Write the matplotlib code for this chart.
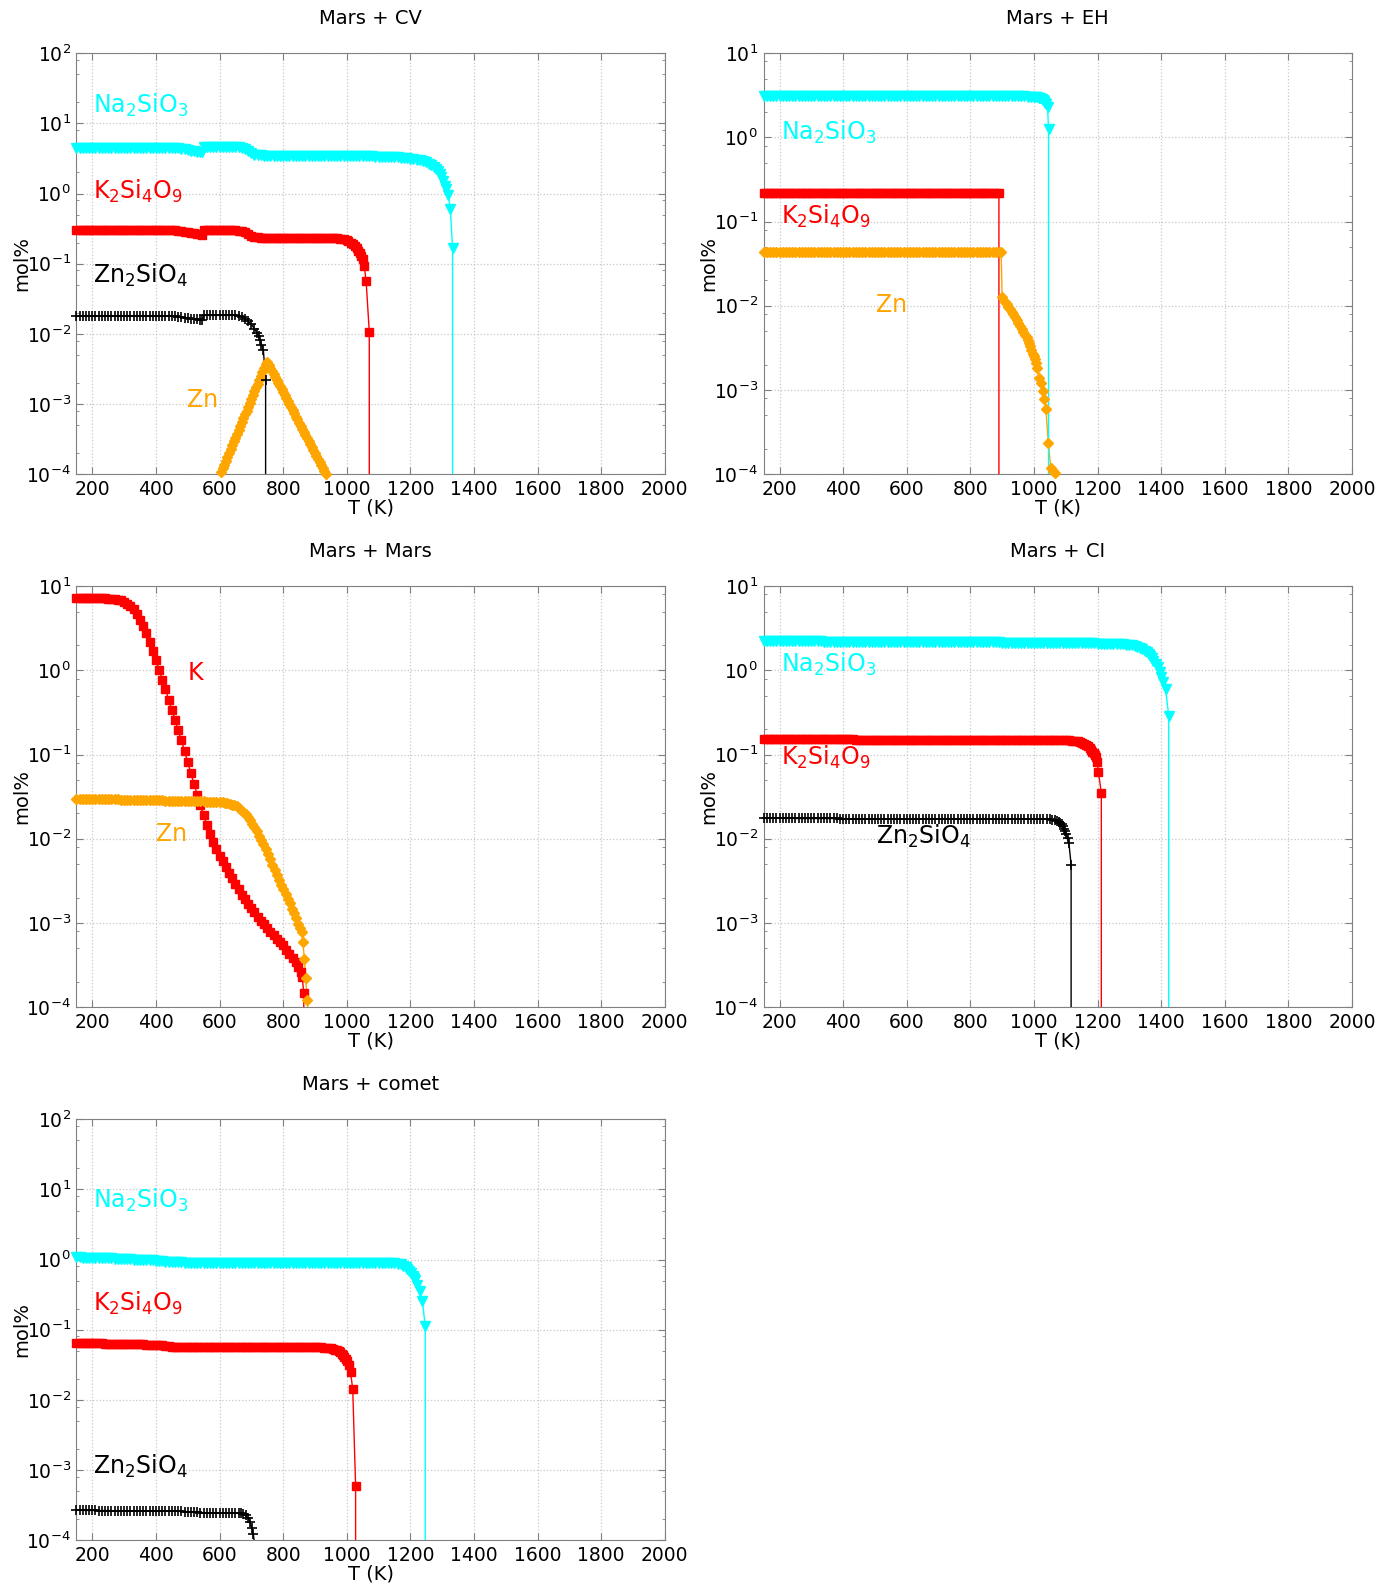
## Mars mixtures: condensed phases vs temperature (log scale), 5 panels

import matplotlib.pyplot as plt
from matplotlib.ticker import LogLocator, MultipleLocator, NullFormatter
import numpy as np

## =========================================================================
## Data: (T in K, mol%); 0 means the phase is gone

# ---- Mars + CV
na_cv = [(150,4.45),(160,4.45),(170,4.45),(180,4.45),(190,4.45),(200,4.45),(210,4.45),(220,4.45),(230,4.45),(240,4.45),
         (250,4.45),(260,4.45),(270,4.45),(280,4.45),(290,4.45),(300,4.45),(310,4.45),(320,4.45),(330,4.45),(340,4.45),
         (350,4.45),(360,4.45),(370,4.45),(380,4.45),(390,4.45),(400,4.45),(410,4.45),(420,4.45),(430,4.45),(440,4.45),
         (450,4.45),(460,4.43),(470,4.4),(480,4.33),(490,4.25),(500,4.18),(510,4.1),(520,4.03),(530,3.95),(540,3.88),
         (546,3.85),(550,4.6),(560,4.6),(570,4.6),(580,4.6),(590,4.6),(600,4.6),(610,4.6),(620,4.6),(630,4.6),
         (640,4.6),(650,4.6),(660,4.58),(670,4.5),(680,4.3),(690,4.0),(700,3.75),(710,3.6),(720,3.53),(730,3.5),
         (740,3.47),(750,3.45),(760,3.45),(770,3.45),(780,3.45),(790,3.45),(800,3.45),(810,3.45),(820,3.45),(830,3.45),
         (840,3.45),(850,3.45),(860,3.45),(870,3.44),(880,3.44),(890,3.44),(900,3.44),(910,3.43),(920,3.43),(930,3.43),
         (940,3.43),(950,3.42),(960,3.42),(970,3.42),(980,3.42),(990,3.41),(1000,3.41),(1010,3.4),(1020,3.4),(1030,3.4),
         (1040,3.4),(1050,3.39),(1060,3.39),(1070,3.38),(1080,3.38),(1090,3.37),(1100,3.37),(1110,3.36),(1120,3.36),(1130,3.35),
         (1140,3.33),(1150,3.3),(1160,3.28),(1170,3.25),(1180,3.23),(1190,3.2),(1200,3.15),(1210,3.1),(1220,3.05),(1230,3.0),
         (1240,2.9),(1250,2.8),(1258,2.68),(1265,2.55),(1273,2.4),(1280,2.25),(1287,2.08),(1293,1.9),(1298,1.7),(1303,1.5),
         (1308,1.3),(1312,1.15),(1319,0.95),(1326,0.6),(1333,0.165),(1334,0)]
k_cv = [(150,0.3),(160,0.3),(170,0.3),(180,0.3),(190,0.3),(200,0.3),(210,0.3),(220,0.3),(230,0.3),(240,0.3),
        (250,0.3),(260,0.3),(270,0.3),(280,0.3),(290,0.3),(300,0.3),(310,0.3),(320,0.3),(330,0.3),(340,0.3),
        (350,0.3),(360,0.3),(370,0.3),(380,0.3),(390,0.3),(400,0.3),(410,0.3),(420,0.3),(430,0.3),(440,0.3),
        (450,0.3),(460,0.298),(470,0.295),(480,0.29),(490,0.285),(500,0.28),(510,0.275),(520,0.27),(530,0.265),(540,0.262),
        (546,0.26),(550,0.305),(560,0.302),(570,0.3),(580,0.3),(590,0.3),(600,0.3),(610,0.3),(620,0.3),(630,0.3),
        (640,0.3),(650,0.3),(660,0.297),(670,0.29),(680,0.28),(690,0.265),(700,0.25),(710,0.24),(720,0.237),(730,0.235),
        (740,0.235),(750,0.235),(760,0.235),(770,0.235),(780,0.235),(790,0.235),(800,0.235),(810,0.235),(820,0.235),(830,0.235),
        (840,0.235),(850,0.235),(860,0.235),(870,0.235),(880,0.235),(890,0.235),(900,0.235),(910,0.235),(920,0.235),(930,0.235),
        (940,0.235),(950,0.233),(960,0.232),(970,0.23),(980,0.226),(990,0.222),(1000,0.215),(1005,0.21),(1012,0.2),(1020,0.19),
        (1026,0.178),(1032,0.165),(1037,0.153),(1042,0.14),(1046,0.128),(1050,0.115),(1055,0.094),(1061,0.057),(1071,0.0107),(1072,0)]
zn2_cv = [(150,0.0178),(160,0.0178),(170,0.0178),(180,0.0178),(190,0.0178),(200,0.0178),(210,0.0178),(220,0.0178),(230,0.0178),(240,0.0178),
          (250,0.0178),(260,0.0178),(270,0.0178),(280,0.0178),(290,0.0178),(300,0.0178),(310,0.0178),(320,0.0178),(330,0.0178),(340,0.0178),
          (350,0.0178),(360,0.0178),(370,0.0178),(380,0.0178),(390,0.0178),(400,0.0178),(410,0.0178),(420,0.0178),(430,0.0178),(440,0.0178),
          (450,0.0178),(460,0.0177),(470,0.0175),(480,0.0173),(490,0.017),(500,0.0168),(510,0.0165),(520,0.0162),(530,0.016),(540,0.0159),
          (546,0.0158),(552,0.0183),(560,0.0183),(570,0.0183),(580,0.0183),(590,0.0183),(600,0.0183),(610,0.0183),(620,0.0183),(630,0.0183),
          (640,0.0183),(650,0.0183),(660,0.018),(670,0.0173),(680,0.0163),(690,0.015),(700,0.0136),(710,0.0118),(718,0.0102),(723,0.0092),
          (727,0.0082),(732,0.007),(738,0.0058),(745,0.0022),(746,0)]
zn_cv = [(600,9.3e-5),(605,1.06e-4),(610,1.2e-4),(615,1.36e-4),(620,1.55e-4),(625,1.76e-4),(630,2.0e-4),(635,2.26e-4),
         (640,2.57e-4),(645,2.92e-4),(650,3.31e-4),(655,3.76e-4),(660,4.27e-4),(665,4.84e-4),(670,5.5e-4),(675,6.24e-4),
         (680,7.08e-4),(685,8.0e-4),(690,9.1e-4),(695,1.04e-3),(700,1.17e-3),(705,1.33e-3),(710,1.51e-3),(715,1.72e-3),
         (720,1.95e-3),(725,2.21e-3),(730,2.51e-3),(735,2.85e-3),(740,3.24e-3),(745,3.7e-3),(748,4.0e-3),(755,3.6e-3),
         (760,3.27e-3),(765,2.95e-3),(770,2.67e-3),(775,2.42e-3),(780,2.19e-3),(785,1.98e-3),(790,1.79e-3),(795,1.62e-3),
         (800,1.47e-3),(805,1.33e-3),(810,1.2e-3),(815,1.09e-3),(820,9.9e-4),(825,8.9e-4),(830,8.1e-4),(835,7.3e-4),
         (840,6.6e-4),(845,6.0e-4),(850,5.4e-4),(855,4.9e-4),(860,4.45e-4),(865,4.0e-4),(870,3.65e-4),(875,3.3e-4),
         (880,3.0e-4),(885,2.7e-4),(890,2.45e-4),(895,2.2e-4),(900,2.0e-4),(905,1.8e-4),(910,1.64e-4),(915,1.49e-4),
         (920,1.35e-4),(925,1.22e-4),(930,1.1e-4),(935,1.0e-4),(940,9.1e-5)]

# ---- Mars + EH
na_eh = [(150,3.12),(160,3.12),(170,3.11),(180,3.11),(190,3.11),(200,3.11),(210,3.1),(220,3.1),(230,3.1),(240,3.1),
         (250,3.1),(260,3.1),(270,3.1),(280,3.1),(290,3.1),(300,3.1),(310,3.1),(320,3.1),(330,3.1),(340,3.1),
         (350,3.1),(360,3.1),(370,3.1),(380,3.1),(390,3.1),(400,3.1),(410,3.1),(420,3.1),(430,3.1),(440,3.1),
         (450,3.1),(460,3.1),(470,3.1),(480,3.1),(490,3.1),(500,3.1),(510,3.1),(520,3.1),(530,3.1),(540,3.1),
         (550,3.1),(560,3.1),(570,3.1),(580,3.1),(590,3.1),(600,3.1),(610,3.1),(620,3.1),(630,3.1),(640,3.1),
         (650,3.1),(660,3.1),(670,3.1),(680,3.1),(690,3.1),(700,3.1),(710,3.1),(720,3.1),(730,3.1),(740,3.1),
         (750,3.1),(760,3.1),(770,3.1),(780,3.1),(790,3.1),(800,3.1),(810,3.1),(820,3.1),(830,3.1),(840,3.1),
         (850,3.1),(860,3.1),(870,3.1),(880,3.1),(890,3.1),(900,3.1),(910,3.09),(920,3.09),(930,3.09),(940,3.08),
         (950,3.08),(960,3.08),(970,3.07),(980,3.065),(990,3.06),(1000,3.05),(1005,3.03),(1010,3.0),(1015,2.97),(1020,2.92),
         (1025,2.85),(1030,2.77),(1033,2.7),(1036,2.6),(1039,2.5),(1043,2.3),(1046,1.25),(1047,0)]
k_eh = [(150,0.219),(160,0.219),(170,0.219),(180,0.219),(190,0.219),(200,0.219),(210,0.219),(220,0.219),(230,0.219),(240,0.219),
        (250,0.219),(260,0.219),(270,0.219),(280,0.219),(290,0.219),(300,0.219),(310,0.219),(320,0.219),(330,0.219),(340,0.219),
        (350,0.219),(360,0.219),(370,0.219),(380,0.219),(390,0.219),(400,0.219),(410,0.219),(420,0.219),(430,0.219),(440,0.219),
        (450,0.219),(460,0.219),(470,0.219),(480,0.219),(490,0.219),(500,0.219),(510,0.219),(520,0.219),(530,0.219),(540,0.219),
        (550,0.219),(560,0.219),(570,0.219),(580,0.219),(590,0.219),(600,0.219),(610,0.219),(620,0.219),(630,0.219),(640,0.219),
        (650,0.219),(660,0.219),(670,0.219),(680,0.219),(690,0.219),(700,0.219),(710,0.219),(720,0.219),(730,0.219),(740,0.219),
        (750,0.219),(760,0.219),(770,0.219),(780,0.219),(790,0.219),(800,0.219),(810,0.219),(820,0.219),(830,0.219),(840,0.219),
        (850,0.219),(860,0.219),(870,0.219),(880,0.219),(890,0.219),(893,0)]
zn_eh = [(150,0.0435),(160,0.0435),(170,0.0435),(180,0.0435),(190,0.0435),(200,0.0435),(210,0.0435),(220,0.0435),(230,0.0435),(240,0.0435),
         (250,0.0435),(260,0.0435),(270,0.0435),(280,0.0435),(290,0.0435),(300,0.0435),(310,0.0435),(320,0.0435),(330,0.0435),(340,0.0435),
         (350,0.0435),(360,0.0435),(370,0.0435),(380,0.0435),(390,0.0435),(400,0.0435),(410,0.0435),(420,0.0435),(430,0.0435),(440,0.0435),
         (450,0.0435),(460,0.0435),(470,0.0435),(480,0.0435),(490,0.0435),(500,0.0435),(510,0.0435),(520,0.0435),(530,0.0435),(540,0.0435),
         (550,0.0435),(560,0.0435),(570,0.0435),(580,0.0435),(590,0.0435),(600,0.0435),(610,0.0435),(620,0.0435),(630,0.0435),(640,0.0435),
         (650,0.0435),(660,0.0435),(670,0.0435),(680,0.0435),(690,0.0435),(700,0.0435),(710,0.0435),(720,0.0435),(730,0.0435),(740,0.0435),
         (750,0.0435),(760,0.0435),(770,0.0435),(780,0.0435),(790,0.0435),(800,0.0435),(810,0.0435),(820,0.0435),(830,0.0435),(840,0.0435),
         (850,0.0435),(860,0.0435),(870,0.0435),(880,0.0435),(890,0.0435),(897,0.0435),(900,0.0128),(909,0.0112),(915,0.0104),(920,0.0097),
         (925,0.0091),(930,0.0085),(935,0.0079),(941,0.0073),(946,0.0067),(951,0.0062),(956,0.0057),(962,0.0053),(967,0.0049),(972,0.0045),
         (977,0.0042),(981,0.0039),(985,0.0036),(988,0.0033),(992,0.003),(996,0.0027),(1000,0.0025),(1004,0.0023),(1007,0.0021),(1011,0.0018),
         (1017,0.0014),(1022,0.0012),(1028,0.00097),(1033,0.00078),(1038,0.00059),(1045,0.000232),(1053,0.000119),(1060,0.000108),
         (1066,0.000103),(1070,0.00009)]

# ---- Mars + Mars
k_mars = [(150,7.24),(160,7.24),(170,7.24),(180,7.24),(190,7.24),(200,7.24),(210,7.23),(220,7.22),(230,7.2),(240,7.18),
          (250,7.15),(260,7.1),(270,7.05),(280,6.95),(290,6.8),(300,6.5),(310,6.2),(320,5.8),(330,5.3),(340,4.7),
          (350,4.0),(360,3.4),(370,2.75),(380,2.18),(390,1.7),(400,1.33),(410,1.02),(420,0.78),(430,0.6),(440,0.45),
          (450,0.34),(460,0.26),(470,0.195),(480,0.148),(490,0.11),(500,0.082),(510,0.06),(520,0.045),(530,0.033),(540,0.025),
          (550,0.019),(560,0.0145),(570,0.0113),(580,0.0092),(590,0.0076),(600,0.0063),(610,0.0054),(620,0.0046),(630,0.0039),(640,0.0034),
          (650,0.0029),(660,0.0025),(670,0.00215),(680,0.0019),(690,0.00168),(700,0.00149),(710,0.00133),(720,0.00119),(730,0.00106),(740,0.00096),
          (750,0.00087),(760,0.00078),(770,0.00071),(780,0.00065),(790,0.0006),(800,0.00054),(810,0.00048),(820,0.00043),(830,0.00038),(840,0.00034),
          (848,0.0003),(855,0.00026),(860,0.00023),(865,0.000147),(868,0)]
zn_mars = [(150,0.0298),(160,0.0298),(170,0.0298),(180,0.0298),(190,0.0297),(200,0.0297),(210,0.0296),(220,0.0296),(230,0.0295),(240,0.0295),
           (250,0.0294),(260,0.0294),(270,0.0293),(280,0.0293),(290,0.0292),(300,0.0291),(310,0.029),(320,0.029),(330,0.0289),(340,0.0289),
           (350,0.0288),(360,0.0288),(370,0.0287),(380,0.0287),(390,0.0286),(400,0.0286),(410,0.0285),(420,0.0285),(430,0.0284),(440,0.0284),
           (450,0.0283),(460,0.0283),(470,0.0282),(480,0.0281),(490,0.028),(500,0.028),(510,0.0279),(520,0.0279),(530,0.0278),(540,0.0278),
           (550,0.0277),(560,0.0276),(570,0.0275),(580,0.0274),(590,0.0273),(600,0.0272),(610,0.027),(618,0.0268),(625,0.0265),(632,0.0261),
           (640,0.0255),(647,0.025),(654,0.0243),(661,0.0233),(668,0.0222),(675,0.021),(682,0.0196),(689,0.0181),(696,0.0166),(703,0.0151),
           (710,0.0136),(717,0.0122),(724,0.0109),(731,0.0097),(738,0.0086),(745,0.0076),(752,0.0066),(759,0.0057),(766,0.0049),(773,0.0043),
           (780,0.0037),(787,0.0032),(794,0.00283),(801,0.0025),(808,0.0022),(815,0.00194),(822,0.0017),(829,0.00148),(835,0.0013),(842,0.00113),
           (848,0.00098),(853,0.00088),(858,0.00078),(862,0.0006),(867,0.000373),(871,0.00022),(876,0.00012),(880,0.00007)]

# ---- Mars + CI
na_ci = [(150,2.25),(160,2.25),(170,2.25),(180,2.24),(190,2.24),(200,2.24),(210,2.24),(220,2.23),(230,2.23),(240,2.23),
         (250,2.23),(260,2.22),(270,2.22),(280,2.22),(290,2.22),(300,2.21),(310,2.21),(320,2.21),(330,2.21),(340,2.2),
         (350,2.2),(360,2.2),(370,2.2),(380,2.2),(390,2.2),(400,2.2),(410,2.2),(420,2.2),(430,2.2),(440,2.19),
         (450,2.19),(460,2.19),(470,2.19),(480,2.19),(490,2.19),(500,2.18),(510,2.18),(520,2.18),(530,2.18),(540,2.18),
         (550,2.18),(560,2.18),(570,2.18),(580,2.17),(590,2.17),(600,2.17),(610,2.17),(620,2.17),(630,2.17),(640,2.17),
         (650,2.17),(660,2.16),(670,2.16),(680,2.16),(690,2.16),(700,2.16),(710,2.16),(720,2.16),(730,2.16),(740,2.16),
         (750,2.16),(760,2.15),(770,2.15),(780,2.15),(790,2.15),(800,2.15),(810,2.15),(820,2.15),(830,2.15),(840,2.15),
         (850,2.15),(860,2.15),(870,2.15),(880,2.15),(890,2.15),(900,2.14),(910,2.14),(920,2.14),(930,2.14),(940,2.14),
         (950,2.14),(960,2.14),(970,2.14),(980,2.13),(990,2.13),(1000,2.13),(1010,2.13),(1020,2.13),(1030,2.13),(1040,2.12),
         (1050,2.12),(1060,2.12),(1070,2.12),(1080,2.12),(1090,2.12),(1100,2.12),(1110,2.12),(1120,2.11),(1130,2.11),(1140,2.11),
         (1150,2.11),(1160,2.1),(1170,2.1),(1180,2.1),(1190,2.1),(1200,2.09),(1210,2.09),(1220,2.08),(1230,2.08),(1240,2.07),
         (1250,2.07),(1260,2.06),(1270,2.05),(1280,2.04),(1290,2.02),(1300,2.0),(1310,1.98),(1318,1.94),(1325,1.9),(1333,1.84),
         (1340,1.78),(1348,1.72),(1355,1.65),(1361,1.57),(1366,1.48),(1371,1.4),(1376,1.31),(1383,1.2),(1390,1.09),(1395,0.96),
         (1400,0.83),(1407,0.72),(1414,0.6),(1424,0.29),(1425,0)]
k_ci = [(150,0.155),(160,0.155),(170,0.155),(180,0.155),(190,0.154),(200,0.154),(210,0.154),(220,0.154),(230,0.153),(240,0.153),
        (250,0.153),(260,0.153),(270,0.153),(280,0.153),(290,0.153),(300,0.153),(310,0.153),(320,0.153),(330,0.153),(340,0.152),
        (350,0.152),(360,0.152),(370,0.152),(380,0.152),(390,0.152),(400,0.152),(410,0.152),(420,0.152),(430,0.152),(440,0.151),
        (450,0.151),(460,0.151),(470,0.151),(480,0.151),(490,0.151),(500,0.151),(510,0.151),(520,0.151),(530,0.151),(540,0.151),
        (550,0.151),(560,0.151),(570,0.151),(580,0.15),(590,0.15),(600,0.15),(610,0.15),(620,0.15),(630,0.15),(640,0.15),
        (650,0.15),(660,0.15),(670,0.15),(680,0.15),(690,0.15),(700,0.15),(710,0.15),(720,0.15),(730,0.15),(740,0.15),
        (750,0.15),(760,0.15),(770,0.15),(780,0.15),(790,0.15),(800,0.15),(810,0.15),(820,0.15),(830,0.15),(840,0.15),
        (850,0.15),(860,0.15),(870,0.15),(880,0.15),(890,0.15),(900,0.15),(910,0.15),(920,0.15),(930,0.15),(940,0.15),
        (950,0.149),(960,0.149),(970,0.149),(980,0.149),(990,0.149),(1000,0.149),(1010,0.149),(1020,0.149),(1030,0.149),(1040,0.149),
        (1050,0.149),(1060,0.149),(1070,0.149),(1080,0.149),(1090,0.149),(1100,0.148),(1110,0.148),(1120,0.147),(1130,0.146),(1138,0.144),
        (1145,0.142),(1152,0.139),(1158,0.135),(1164,0.13),(1170,0.125),(1175,0.12),(1180,0.114),(1184,0.108),(1188,0.103),(1192,0.098),
        (1195,0.093),(1199,0.082),(1203,0.062),(1212,0.0348),(1213,0)]
zn2_ci = [(150,0.0175),(160,0.0175),(170,0.0175),(180,0.0175),(190,0.0175),(200,0.0175),(210,0.0175),(220,0.0175),(230,0.0175),(240,0.0175),
          (250,0.0174),(260,0.0174),(270,0.0174),(280,0.0174),(290,0.0174),(300,0.0174),(310,0.0174),(320,0.0174),(330,0.0174),(340,0.0174),
          (350,0.0174),(360,0.0174),(370,0.0174),(380,0.0174),(390,0.0173),(400,0.0173),(410,0.0173),(420,0.0173),(430,0.0173),(440,0.0173),
          (450,0.0173),(460,0.0173),(470,0.0173),(480,0.0173),(490,0.0173),(500,0.0173),(510,0.0173),(520,0.0173),(530,0.0173),(540,0.0173),
          (550,0.0173),(560,0.0173),(570,0.0173),(580,0.0173),(590,0.0173),(600,0.0172),(610,0.0172),(620,0.0172),(630,0.0172),(640,0.0172),
          (650,0.0172),(660,0.0172),(670,0.0172),(680,0.0172),(690,0.0172),(700,0.0172),(710,0.0172),(720,0.0172),(730,0.0172),(740,0.0172),
          (750,0.0172),(760,0.0172),(770,0.0172),(780,0.0172),(790,0.0172),(800,0.0172),(810,0.0172),(820,0.0172),(830,0.0172),(840,0.0172),
          (850,0.0172),(860,0.0172),(870,0.0172),(880,0.0172),(890,0.0172),(900,0.0172),(910,0.0172),(920,0.0172),(930,0.0172),(940,0.0172),
          (950,0.0172),(960,0.0172),(970,0.0172),(980,0.0172),(990,0.0172),(1000,0.0172),(1010,0.0172),(1020,0.0171),(1030,0.0171),(1040,0.017),
          (1050,0.017),(1058,0.0168),(1065,0.0166),(1072,0.0163),(1078,0.016),(1083,0.0155),(1088,0.0148),(1092,0.014),(1096,0.013),(1099,0.0122),
          (1102,0.0114),(1106,0.0102),(1110,0.009),(1117,0.0049),(1118,0)]

# ---- Mars + comet
na_comet = [(150,1.07),(160,1.07),(170,1.06),(180,1.06),(190,1.06),(200,1.055),(210,1.05),(220,1.05),(230,1.05),(240,1.045),
            (250,1.04),(260,1.035),(270,1.03),(280,1.025),(290,1.02),(300,1.015),(310,1.01),(320,1.005),(330,1.0),(340,1.0),
            (350,1.0),(360,0.995),(370,0.99),(380,0.98),(390,0.97),(400,0.96),(410,0.95),(420,0.94),(430,0.93),(440,0.925),
            (450,0.92),(460,0.915),(470,0.91),(480,0.908),(490,0.905),(500,0.905),(510,0.905),(520,0.905),(530,0.905),(540,0.905),
            (550,0.905),(560,0.905),(570,0.905),(580,0.905),(590,0.905),(600,0.905),(610,0.905),(620,0.905),(630,0.905),(640,0.905),
            (650,0.905),(660,0.905),(670,0.905),(680,0.905),(690,0.905),(700,0.905),(710,0.905),(720,0.905),(730,0.905),(740,0.905),
            (750,0.905),(760,0.905),(770,0.905),(780,0.905),(790,0.905),(800,0.905),(810,0.905),(820,0.905),(830,0.905),(840,0.905),
            (850,0.905),(860,0.905),(870,0.905),(880,0.905),(890,0.905),(900,0.905),(910,0.905),(920,0.905),(930,0.905),(940,0.905),
            (950,0.905),(960,0.905),(970,0.905),(980,0.905),(990,0.905),(1000,0.905),(1010,0.905),(1020,0.905),(1030,0.905),(1040,0.905),
            (1050,0.905),(1060,0.905),(1070,0.905),(1080,0.905),(1090,0.905),(1100,0.905),(1110,0.905),(1120,0.902),(1130,0.9),(1140,0.89),
            (1150,0.88),(1160,0.866),(1170,0.85),(1178,0.82),(1185,0.78),(1191,0.74),(1197,0.69),(1202,0.64),(1207,0.59),(1211,0.55),
            (1215,0.51),(1222,0.44),(1229,0.36),(1238,0.258),(1247,0.112),(1248,0)]
k_comet = [(150,0.0645),(160,0.0644),(170,0.0643),(180,0.0641),(190,0.064),(200,0.0639),(210,0.0638),(220,0.0636),(230,0.0635),(240,0.0633),
           (250,0.0632),(260,0.0631),(270,0.063),(280,0.0628),(290,0.0627),(300,0.0625),(310,0.0624),(320,0.0622),(330,0.0621),(340,0.0619),
           (350,0.0617),(360,0.0615),(370,0.0614),(380,0.0612),(390,0.061),(400,0.0605),(410,0.06),(420,0.0595),(430,0.059),(440,0.0582),
           (450,0.0575),(460,0.057),(470,0.0565),(480,0.0562),(490,0.056),(500,0.0559),(510,0.0559),(520,0.0559),(530,0.0559),(540,0.0559),
           (550,0.0559),(560,0.0559),(570,0.0559),(580,0.0559),(590,0.0559),(600,0.0559),(610,0.0559),(620,0.0559),(630,0.0559),(640,0.0559),
           (650,0.0559),(660,0.0559),(670,0.0559),(680,0.0559),(690,0.0559),(700,0.0559),(710,0.0559),(720,0.0559),(730,0.0559),(740,0.0559),
           (750,0.0559),(760,0.0559),(770,0.0559),(780,0.0559),(790,0.0559),(800,0.0559),(810,0.0559),(820,0.0559),(830,0.0559),(840,0.0559),
           (850,0.0559),(860,0.0559),(870,0.0559),(880,0.0559),(890,0.0559),(900,0.0559),(910,0.0558),(920,0.0557),(930,0.0555),(940,0.0549),
           (950,0.054),(957,0.053),(963,0.0517),(969,0.0505),(975,0.049),(980,0.0474),(985,0.0455),(989,0.0433),(993,0.041),(997,0.0385),
           (1000,0.036),(1006,0.031),(1012,0.025),(1019,0.0141),(1028,0.00059),(1029,0)]
zn2_comet = [(150,2.65e-4),(160,2.65e-4),(170,2.65e-4),(180,2.64e-4),(190,2.64e-4),(200,2.64e-4),(210,2.64e-4),(220,2.63e-4),(230,2.63e-4),(240,2.63e-4),
             (250,2.63e-4),(260,2.62e-4),(270,2.62e-4),(280,2.62e-4),(290,2.62e-4),(300,2.61e-4),(310,2.61e-4),(320,2.61e-4),(330,2.61e-4),(340,2.6e-4),
             (350,2.6e-4),(360,2.6e-4),(370,2.6e-4),(380,2.59e-4),(390,2.59e-4),(400,2.59e-4),(410,2.59e-4),(420,2.58e-4),(430,2.58e-4),(440,2.58e-4),
             (450,2.58e-4),(460,2.57e-4),(470,2.57e-4),(480,2.55e-4),(490,2.53e-4),(500,2.52e-4),(510,2.5e-4),(520,2.49e-4),(530,2.47e-4),(540,2.46e-4),
             (550,2.45e-4),(560,2.44e-4),(570,2.44e-4),(580,2.43e-4),(590,2.43e-4),(600,2.43e-4),(610,2.43e-4),(620,2.43e-4),(630,2.43e-4),(640,2.42e-4),
             (650,2.42e-4),(660,2.41e-4),(668,2.4e-4),(675,2.33e-4),(682,2.24e-4),(690,2.05e-4),(696,1.8e-4),(701,1.5e-4),(706,1.22e-4),(712,8e-5),
             (718,5e-5)]

NA = r'Na$_2$SiO$_3$'
KS = r'K$_2$Si$_4$O$_9$'
ZS = r'Zn$_2$SiO$_4$'

## =========================================================================
## Styles

CYAN, RED, BLACK, ORANGE = '#00ffff', '#ff0000', '#000000', '#ffa500'
STYLE = {
    'na': dict(color=CYAN, marker='v', ms=7.5, mew=1),
    'k': dict(color=RED, marker='s', ms=6, mew=1),
    'zs': dict(color=BLACK, marker='+', ms=7, mew=1.2),
    'zn': dict(color=ORANGE, marker='D', ms=4.6, mew=1),
}

W, H = 1398, 1591
fig = plt.figure(figsize=(W / 100, H / 100), dpi=100)

col_left = [76.4, 763.6]
row_top = [53.3, 586.3, 1119.3]
ax_w, ax_h = 588.3, 420.7


def make_axes(col, row):
    return fig.add_axes([col_left[col] / W, 1 - (row_top[row] + ax_h) / H, ax_w / W, ax_h / H])


def draw(ax, pts, kind, ymin):
    st = STYLE[kind]
    T = np.array([p[0] for p in pts], float)
    v = np.array([p[1] for p in pts], float)
    ax.plot(T, v, '-', color=st['color'], lw=1.0, zorder=3)
    keep = v >= ymin
    ax.plot(T[keep], v[keep], ls='none', marker=st['marker'], ms=st['ms'], mew=st['mew'],
            color=st['color'], mec=st['color'], clip_on=False, zorder=4)


def setup(ax, title, ytop):
    ax.set_yscale('log')
    ax.set_xlim(150, 2000)
    ax.set_ylim(1e-4, ytop)
    ax.xaxis.set_major_locator(MultipleLocator(200))
    ax.yaxis.set_major_locator(LogLocator(base=10, numticks=20))
    ax.yaxis.set_minor_locator(LogLocator(base=10, subs=(2, 5, 8), numticks=20))
    ax.yaxis.set_minor_formatter(NullFormatter())
    ax.grid(True, which='major', color='#c8c8c8', ls=':', lw=0.9)
    ax.set_axisbelow(True)
    ax.tick_params(which='both', direction='in', top=True, right=True, color='#808080')
    ax.tick_params(which='major', length=5, pad=4, labelsize=13.5)
    ax.tick_params(which='minor', length=2.5)
    for s in ax.spines.values():
        s.set_color('#808080')
    ax.set_title(title, fontsize=14, pad=21)
    ax.set_xlabel('T (K)', fontsize=14)
    ax.xaxis.set_label_coords(0.5, -0.058)
    ax.set_ylabel('mol%', fontsize=14)
    ax.yaxis.set_label_coords(-0.077, 0.5)


def label(ax, x, y, s, color):
    ax.text(x, y, s, color=color, fontsize=17, ha='left', va='baseline', zorder=5)


## =========================================================================
## Panels

panels = [
    (0, 0, 'Mars + CV', 1e2, [(zn_cv, 'zn'), (zn2_cv, 'zs'), (k_cv, 'k'), (na_cv, 'na')],
     [(203, 14.1, NA, CYAN), (203, 0.85, KS, RED), (203, 0.0537, ZS, BLACK), (499, 8.9e-4, 'Zn', ORANGE)]),
    (1, 0, 'Mars + EH', 1e1, [(zn_eh, 'zn'), (k_eh, 'k'), (na_eh, 'na')],
     [(204, 0.944, NA, CYAN), (204, 0.0933, KS, RED), (502, 0.0085, 'Zn', ORANGE)]),
    (0, 1, 'Mars + Mars', 1e1, [(k_mars, 'k'), (zn_mars, 'zn')],
     [(499, 0.76, 'K', RED), (401, 0.0093, 'Zn', ORANGE)]),
    (1, 1, 'Mars + CI', 1e1, [(zn2_ci, 'zs'), (k_ci, 'k'), (na_ci, 'na')],
     [(204, 0.955, NA, CYAN), (204, 0.0759, KS, RED), (502, 0.0087, ZS, BLACK)]),
    (0, 2, 'Mars + comet', 1e2, [(zn2_comet, 'zs'), (k_comet, 'k'), (na_comet, 'na')],
     [(201, 5.46, NA, CYAN), (201, 0.186, KS, RED), (201, 8.8e-4, ZS, BLACK)]),
]

for col, row, title, ytop, series, texts in panels:
    ax = make_axes(col, row)
    setup(ax, title, ytop)
    for pts, kind in series:
        draw(ax, pts, kind, 1e-4)
    for x, y, s, c in texts:
        label(ax, x, y, s, c)

fig.savefig('out.png', dpi=100)
